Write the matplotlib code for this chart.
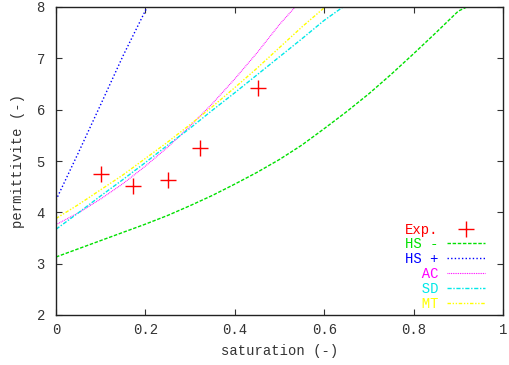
import matplotlib
matplotlib.use("Agg")
import matplotlib.pyplot as plt

plt.rcParams['font.family'] = ['Liberation Mono', 'DejaVu Sans Mono']

# Experimental data
exp_s = [0.101, 0.172, 0.251, 0.322, 0.452]
exp_eps = [4.75, 4.52, 4.63, 5.26, 6.42]

# HS - (lower bound)
hsm_s = [0.0, 0.05, 0.1, 0.15, 0.2, 0.25, 0.3, 0.35, 0.4, 0.45, 0.5, 0.55,
         0.6, 0.65, 0.7, 0.75, 0.8, 0.85, 0.9, 0.919]
hsm_eps = [3.13, 3.29, 3.45, 3.61, 3.77, 3.94, 4.13, 4.33, 4.55, 4.78, 5.03,
           5.31, 5.63, 5.96, 6.31, 6.69, 7.09, 7.50, 7.92, 8.0]

# HS + (upper bound)
hsp_s = [0.0, 0.05, 0.1, 0.15, 0.204]
hsp_eps = [4.24, 5.16, 6.10, 7.05, 8.0]

# AC
ac_s = [0.0, 0.05, 0.1, 0.15, 0.2, 0.25, 0.3, 0.35, 0.4, 0.45, 0.5, 0.535]
ac_eps = [3.76, 3.99, 4.26, 4.56, 4.90, 5.27, 5.68, 6.12, 6.60, 7.11, 7.66, 8.0]

# SD
sd_s = [0.0, 0.05, 0.1, 0.15, 0.2, 0.25, 0.3, 0.35, 0.4, 0.45, 0.5, 0.55, 0.6, 0.642]
sd_eps = [3.67, 3.99, 4.32, 4.64, 4.97, 5.31, 5.64, 5.99, 6.33, 6.68, 7.03,
          7.38, 7.74, 8.0]

# MT
mt_s = [0.0, 0.05, 0.1, 0.15, 0.2, 0.25, 0.3, 0.35, 0.4, 0.45, 0.5, 0.55, 0.602]
mt_eps = [3.88, 4.15, 4.44, 4.73, 5.05, 5.37, 5.71, 6.06, 6.43, 6.81, 7.21,
          7.61, 8.0]

xticks = [0, 0.2, 0.4, 0.6, 0.8, 1]
xticklabels = ['0', '0.2', '0.4', '0.6', '0.8', '1']
yticks = [2, 3, 4, 5, 6, 7, 8]

fig = plt.figure(figsize=(5.09, 3.65), dpi=100)
ax = fig.add_axes([56 / 509, 1 - 315 / 365, (503 - 56) / 509, (315 - 7) / 365])

ax.plot(exp_s, exp_eps, linestyle='none', marker='+', markersize=11,
        markeredgewidth=1.0, color='#ff0000', label='Exp.')
ax.plot(hsm_s, hsm_eps, color='#00e000', lw=1.0, dashes=(2.5, 1.2), label='HS -')
ax.plot(hsp_s, hsp_eps, color='#0000ff', lw=1.0, dashes=(1.0, 1.6), label='HS +')
ax.plot(ac_s, ac_eps, color='#ff00ff', lw=0.8, dashes=(0.8, 0.8), label='  AC')
ax.plot(sd_s, sd_eps, color='#00e8e8', lw=1.0, dashes=(3, 1.2, 1, 1.2), label='  SD')
ax.plot(mt_s, mt_eps, color='#ffff00', lw=1.0, dashes=(2.5, 1.2, 1, 1.2, 1, 1.2), label='  MT')

ax.set_xlim(0, 1)
ax.set_ylim(2, 8)
ax.set_xticks(xticks)
ax.set_xticklabels(xticklabels)
ax.set_yticks(yticks)
ax.tick_params(direction='in', length=4, width=0.8, top=True, right=True,
               labelsize=10, colors='#333333')
ax.tick_params(axis='x', pad=6)
ax.tick_params(axis='y', pad=8)
for sp in ax.spines.values():
    sp.set_linewidth(1.0)
    sp.set_color('#222222')

ax.set_xlabel('saturation (-)', fontsize=10, color='#333333', labelpad=5)
ax.set_ylabel('permittivite (-)', fontsize=10, color='#333333', labelpad=8)

leg = ax.legend(loc='lower right', bbox_to_anchor=(0.965, 0.005), frameon=False,
                markerfirst=False, labelcolor='linecolor', fontsize=10,
                handlelength=2.7, handletextpad=0.6, labelspacing=0.06,
                borderaxespad=0.0, borderpad=0.2)

fig.savefig('out.png', dpi=100)
